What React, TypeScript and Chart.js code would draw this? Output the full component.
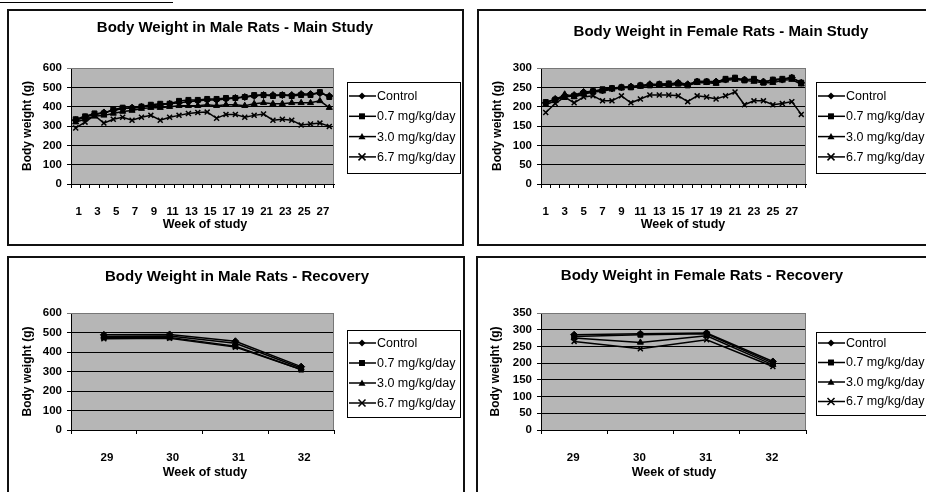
import React, { useEffect, useRef } from 'react';
import { Chart, registerables } from 'chart.js';
Chart.register(...registerables);

// ---------------- DATA ----------------
const mainWeeks = ['1', '2', '3', '4', '5', '6', '7', '8', '9', '10', '11', '12', '13', '14', '15', '16', '17', '18', '19', '20', '21', '22', '23', '24', '25', '26', '27', '28'];
const recoveryWeeks = ['29', '30', '31', '32'];
const seriesNames = ['Control', '0.7 mg/kg/day', '3.0 mg/kg/day', '6.7 mg/kg/day'];

const maleMainControl = [330, 345, 360, 370, 380, 390, 395, 400, 405, 410, 415, 420, 425, 430, 435, 435, 440, 445, 450, 455, 460, 460, 460, 460, 465, 465, 470, 455];
const maleMain07 = [335, 350, 365, 365, 385, 395, 390, 400, 410, 415, 415, 430, 435, 435, 440, 440, 445, 445, 450, 460, 460, 455, 460, 455, 460, 460, 475, 450];
const maleMain30 = [320, 335, 350, 355, 365, 375, 380, 390, 395, 395, 400, 405, 405, 405, 410, 405, 410, 410, 405, 415, 420, 415, 415, 420, 420, 420, 430, 395];
const maleMain67 = [290, 320, 355, 315, 335, 345, 330, 345, 355, 330, 345, 355, 365, 370, 372, 340, 360, 360, 345, 355, 362, 330, 335, 330, 305, 310, 315, 298];

const femaleMainControl = [210, 220, 228, 230, 238, 240, 242, 247, 250, 252, 255, 258, 258, 258, 262, 258, 265, 265, 265, 270, 273, 270, 270, 265, 268, 270, 275, 262];
const femaleMain07 = [212, 218, 225, 228, 235, 240, 245, 248, 250, 250, 255, 255, 258, 260, 260, 255, 265, 265, 262, 272, 275, 268, 272, 262, 270, 272, 275, 262];
const femaleMain30 = [205, 215, 232, 225, 232, 238, 240, 245, 248, 250, 252, 255, 255, 255, 258, 255, 262, 262, 260, 268, 270, 268, 265, 262, 262, 268, 270, 258];
const femaleMain67 = [185, 208, 225, 210, 225, 228, 215, 215, 228, 210, 220, 230, 230, 230, 228, 213, 228, 225, 220, 228, 238, 205, 215, 215, 205, 208, 213, 180];

const maleRecControl = [488, 490, 455, 325];
const maleRec07 = [475, 475, 430, 310];
const maleRec30 = [480, 482, 445, 318];
const maleRec67 = [468, 470, 425, 310];

const femaleRecControl = [285, 288, 290, 205];
const femaleRec07 = [280, 285, 288, 200];
const femaleRec30 = [275, 262, 282, 195];
const femaleRec67 = [265, 243, 270, 190];

const yMaxMale = 600;
const yStepMale = 100;
const yMaxFemaleMain = 300;
const yMaxFemaleRec = 350;
const yStepFemale = 50;

// ---------------- STYLE ----------------
const FONT = '"Liberation Sans", Arial, sans-serif';
const markerStyles = ['rectRot', 'rect', 'triangle', 'crossRot'];

type PanelCfg = {
  left: number; top: number; width: number; height: number;
  area: { l: number; r: number; t: number; b: number };
  title: string; titleX: number; titleY: number;
  xTitleX: number; xTitleY: number; yTitleX: number; labelOffset: number;
  legend: { x: number; y: number; w: number; h: number; y0: number; step: number };
  labels: string[]; series: number[][]; yMax: number; yStep: number; skipLabels: boolean;
};

const panels: PanelCfg[] = [
  {
    left: 7, top: 9, width: 457, height: 237,
    area: { l: 64, r: 327, t: 59, b: 175 },
    title: 'Body Weight in Male Rats - Main Study', titleX: 228, titleY: 19,
    xTitleX: 198, xTitleY: 216, yTitleX: 21, labelOffset: 3,
    legend: { x: 340, y: 73, w: 113, h: 91, y0: 87, step: 20.3 },
    labels: mainWeeks, series: [maleMainControl, maleMain07, maleMain30, maleMain67],
    yMax: yMaxMale, yStep: yStepMale, skipLabels: true,
  },
  {
    left: 477, top: 9, width: 470, height: 237,
    area: { l: 64, r: 329, t: 59, b: 175 },
    title: 'Body Weight in Female Rats - Main Study', titleX: 244, titleY: 23,
    xTitleX: 206, xTitleY: 216, yTitleX: 21, labelOffset: 0,
    legend: { x: 339, y: 73, w: 120, h: 91, y0: 87, step: 20.3 },
    labels: mainWeeks, series: [femaleMainControl, femaleMain07, femaleMain30, femaleMain67],
    yMax: yMaxFemaleMain, yStep: yStepFemale, skipLabels: true,
  },
  {
    left: 7, top: 256, width: 458, height: 260,
    area: { l: 64, r: 327, t: 57, b: 174 },
    title: 'Body Weight in Male Rats - Recovery', titleX: 230, titleY: 21,
    xTitleX: 198, xTitleY: 217, yTitleX: 21, labelOffset: 3,
    legend: { x: 340, y: 74, w: 113, h: 87, y0: 87, step: 20 },
    labels: recoveryWeeks, series: [maleRecControl, maleRec07, maleRec30, maleRec67],
    yMax: yMaxMale, yStep: yStepMale, skipLabels: false,
  },
  {
    left: 476, top: 256, width: 470, height: 260,
    area: { l: 65, r: 330, t: 57, b: 174 },
    title: 'Body Weight in Female Rats - Recovery', titleX: 226, titleY: 20,
    xTitleX: 198, xTitleY: 217, yTitleX: 20, labelOffset: -1,
    legend: { x: 340, y: 76, w: 120, h: 83, y0: 87, step: 19.5 },
    labels: recoveryWeeks, series: [femaleRecControl, femaleRec07, femaleRec30, femaleRec67],
    yMax: yMaxFemaleRec, yStep: yStepFemale, skipLabels: false,
  },
];

function drawMarker(ctx: CanvasRenderingContext2D, style: string, x: number, y: number, r: number) {
  ctx.save();
  ctx.fillStyle = '#000';
  ctx.strokeStyle = '#000';
  ctx.lineWidth = 1.5;
  ctx.beginPath();
  if (style === 'rectRot') {
    ctx.moveTo(x, y - r); ctx.lineTo(x + r, y); ctx.lineTo(x, y + r); ctx.lineTo(x - r, y); ctx.closePath(); ctx.fill();
  } else if (style === 'rect') {
    const s = r * 0.85;
    ctx.fillRect(x - s, y - s, 2 * s, 2 * s);
  } else if (style === 'triangle') {
    ctx.moveTo(x, y - r); ctx.lineTo(x + r, y + r * 0.75); ctx.lineTo(x - r, y + r * 0.75); ctx.closePath(); ctx.fill();
  } else {
    ctx.moveTo(x - r, y - r); ctx.lineTo(x + r, y + r);
    ctx.moveTo(x + r, y - r); ctx.lineTo(x - r, y + r);
    ctx.stroke();
  }
  ctx.restore();
}

function makePlugin(cfg: PanelCfg) {
  return {
    id: 'panelDecor',
    beforeDraw(chart: any) {
      const { ctx, chartArea: a } = chart;
      ctx.save();
      ctx.fillStyle = '#fff';
      ctx.fillRect(0, 0, chart.width, chart.height);
      ctx.fillStyle = '#b6b6b6';
      ctx.fillRect(a.left, a.top, a.right - a.left, a.bottom - a.top);
      ctx.restore();
    },
    afterDraw(chart: any) {
      const { ctx, chartArea: a } = chart;
      ctx.save();
      // plot area outline (top/right)
      ctx.strokeStyle = '#777';
      ctx.lineWidth = 1;
      ctx.beginPath();
      ctx.moveTo(a.left, a.top + 0.5); ctx.lineTo(a.right - 0.5, a.top + 0.5); ctx.lineTo(a.right - 0.5, a.bottom);
      ctx.stroke();
      // titles
      ctx.fillStyle = '#000';
      ctx.textAlign = 'center';
      ctx.textBaseline = 'middle';
      ctx.font = `bold 15px ${FONT}`;
      ctx.fillText(cfg.title, cfg.titleX, cfg.titleY);
      ctx.font = `bold 12.5px ${FONT}`;
      ctx.fillText('Week of study', cfg.xTitleX, cfg.xTitleY);
      ctx.save();
      ctx.translate(cfg.yTitleX, (a.top + a.bottom) / 2);
      ctx.rotate(-Math.PI / 2);
      ctx.font = `bold 12px ${FONT}`;
      ctx.fillText('Body weight (g)', 0, 0);
      ctx.restore();
      // legend
      const L = cfg.legend;
      ctx.strokeStyle = '#000';
      ctx.lineWidth = 1;
      ctx.strokeRect(L.x + 0.5, L.y + 0.5, L.w, L.h);
      ctx.font = `12.5px ${FONT}`;
      ctx.textAlign = 'left';
      seriesNames.forEach((name, i) => {
        const y = L.y0 + i * L.step;
        ctx.beginPath();
        ctx.lineWidth = 1.5;
        ctx.moveTo(L.x + 2, y); ctx.lineTo(L.x + 29, y);
        ctx.stroke();
        drawMarker(ctx, markerStyles[i], L.x + 15, y, 3.5);
        ctx.fillStyle = '#000';
        ctx.fillText(name, L.x + 30, y + 0.5);
      });
      // panel border
      ctx.lineWidth = 2;
      ctx.strokeStyle = '#111';
      ctx.strokeRect(1, 1, chart.width - 2, chart.height - 2);
      ctx.restore();
    },
  };
}

function Panel({ cfg }: { cfg: PanelCfg }) {
  const ref = useRef<HTMLCanvasElement>(null);
  useEffect(() => {
    if (!ref.current) return;
    const tickFont = { family: FONT, size: 11.5, weight: 'bold' as const };
    const chart = new Chart(ref.current, {
      type: 'line',
      data: {
        labels: cfg.labels,
        datasets: cfg.series.map((d, i) => ({
          label: seriesNames[i],
          data: d,
          borderColor: '#000',
          backgroundColor: '#000',
          borderWidth: 1.5,
          pointStyle: markerStyles[i] as any,
          pointRadius: 3.5,
          pointBorderWidth: i === 3 ? 1.5 : 1,
          pointBackgroundColor: '#000',
          pointBorderColor: '#000',
          tension: 0,
          fill: false,
        })),
      },
      options: {
        animation: false,
        responsive: false,
        events: [],
        layout: { padding: { left: 0, right: cfg.width - cfg.area.r, top: cfg.area.t, bottom: 0 } },
        plugins: { legend: { display: false }, title: { display: false }, tooltip: { enabled: false } },
        scales: {
          x: {
            type: 'category',
            offset: true,
            grid: { display: true, drawOnChartArea: false, drawTicks: true, tickLength: 4, offset: true, color: '#000' },
            border: { display: true, color: '#000', width: 1 },
            ticks: {
              autoSkip: false, maxRotation: 0, minRotation: 0, padding: 17, font: tickFont, color: '#000',
              labelOffset: cfg.labelOffset,
              callback: (_v: any, idx: number) => (cfg.skipLabels && idx % 2 === 1 ? '' : cfg.labels[idx]),
            },
            afterFit: (s: any) => { s.height = cfg.height - cfg.area.b; },
          },
          y: {
            min: 0, max: cfg.yMax,
            ticks: { stepSize: cfg.yStep, autoSkip: false, padding: 5, font: tickFont, color: '#000' },
            grid: {
              drawTicks: true, tickLength: 4,
              color: (c: any) => (c.tick && c.tick.value === cfg.yMax ? '#777' : '#000'),
            },
            border: { display: true, color: '#000', width: 1 },
            afterFit: (s: any) => { s.width = cfg.area.l; },
          },
        },
      },
      plugins: [makePlugin(cfg)],
    });
    return () => chart.destroy();
  }, [cfg]);
  return (
    <canvas
      ref={ref}
      width={cfg.width}
      height={cfg.height}
      style={{ position: 'absolute', left: cfg.left, top: cfg.top, width: cfg.width, height: cfg.height }}
    />
  );
}

export default function App() {
  return (
    <div style={{ position: 'fixed', left: 0, top: 0, width: 926, height: 492, overflow: 'hidden', background: '#fff' }}>
      <div style={{ position: 'absolute', left: 0, top: 2, width: 173, height: 0, borderTop: '1.5px solid #000' }} />
      {panels.map((p, i) => (
        <Panel key={i} cfg={p} />
      ))}
    </div>
  );
}
